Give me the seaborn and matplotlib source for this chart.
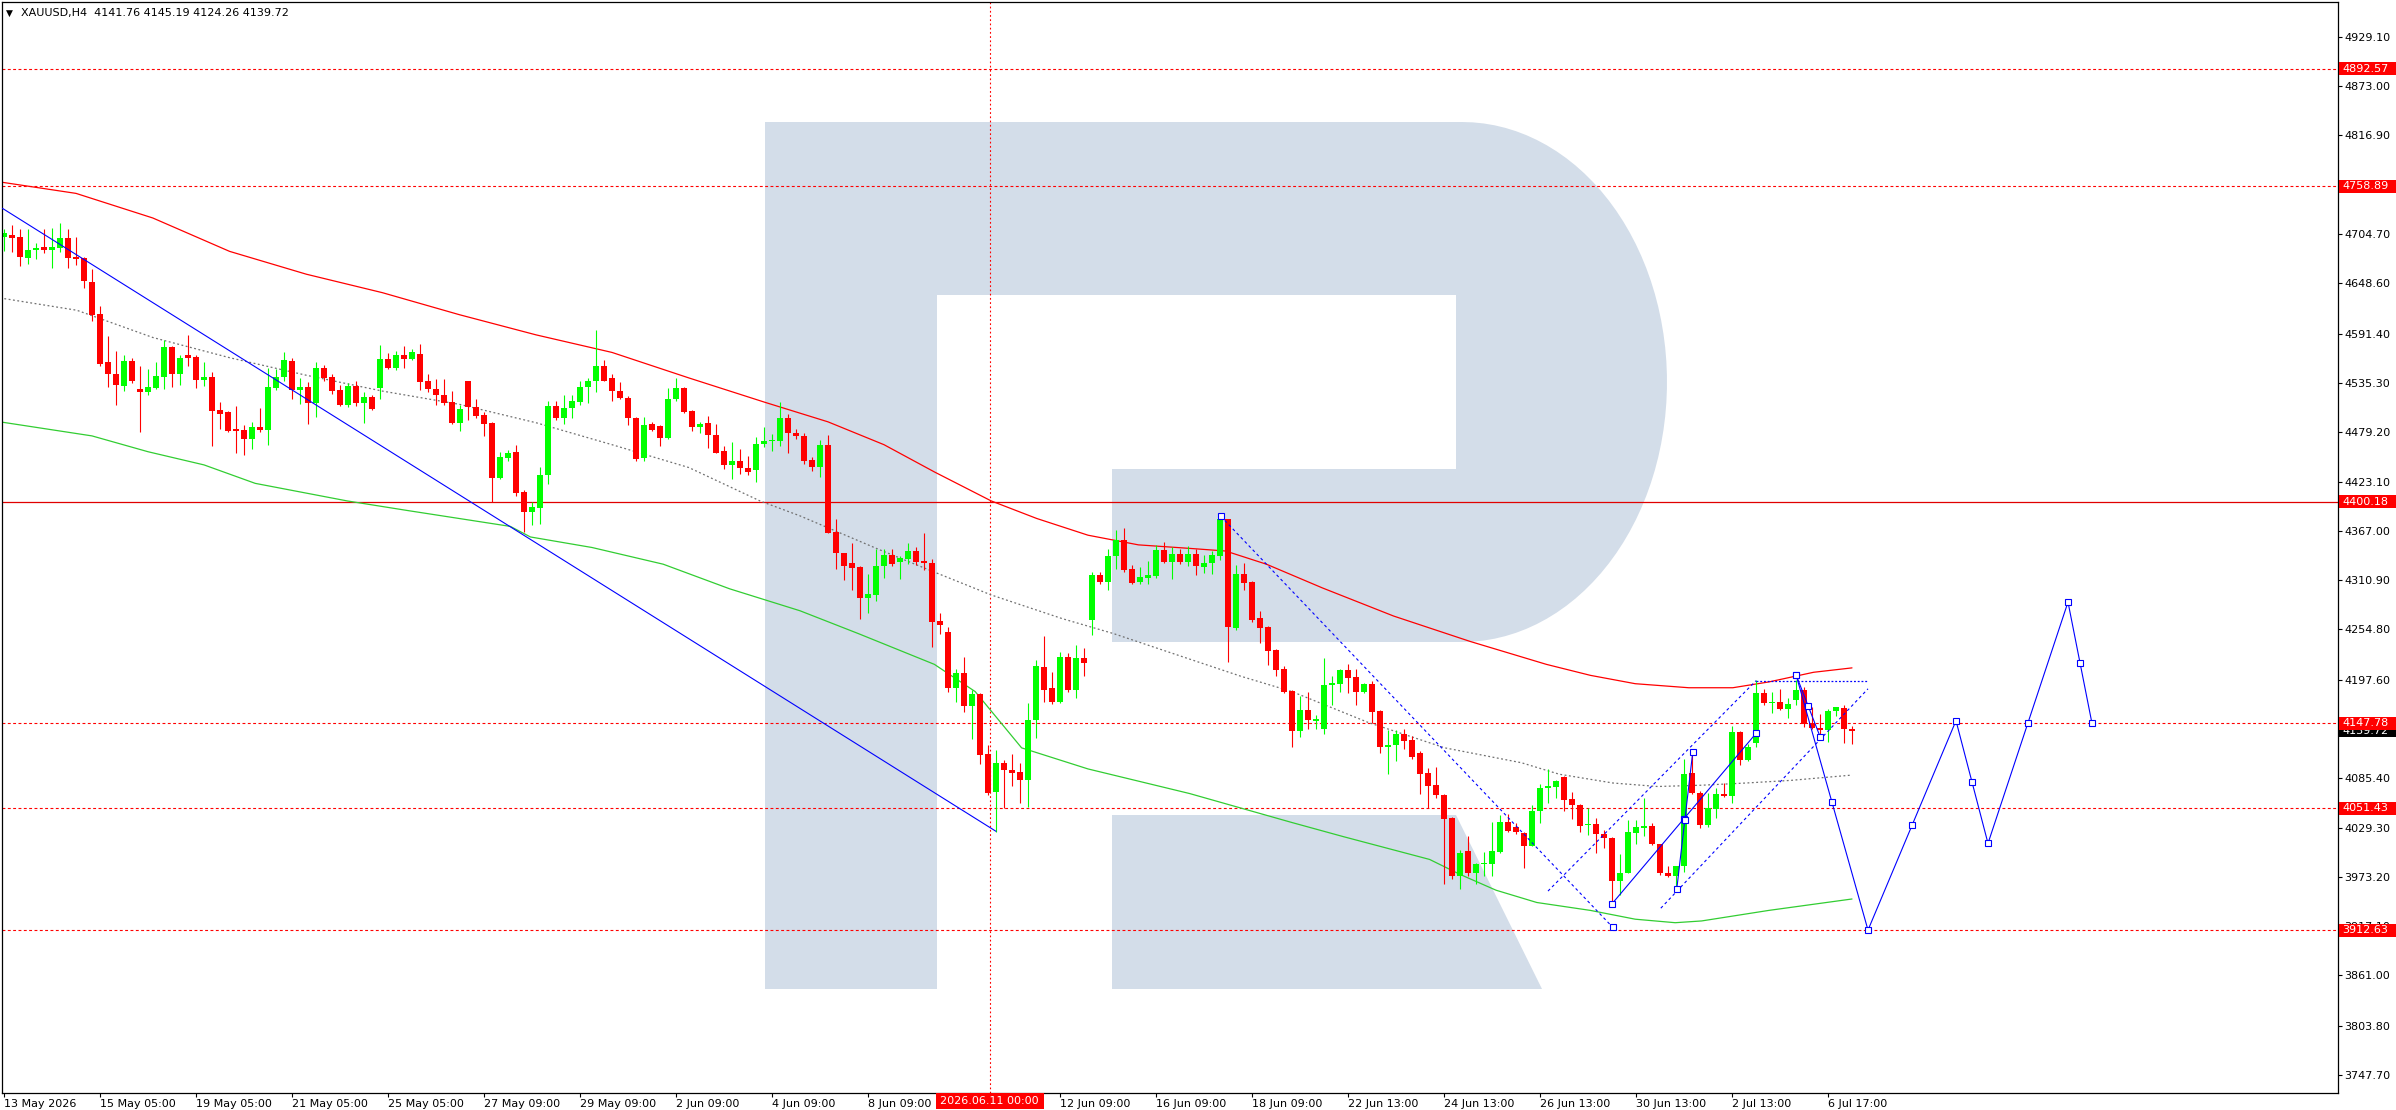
import numpy as np
import pandas as pd
import matplotlib
matplotlib.use("Agg")
import matplotlib.pyplot as plt
import matplotlib.transforms as mtransforms
from matplotlib.patches import Rectangle, Polygon
import seaborn as sns

W, H, DPI = 2396, 1110, 100

# ---------------- data: XAUUSD H4 candles (bar 0 = 13 May 2026) ----------------
opens = [4701, 4704, 4701, 4678, 4686, 4690, 4687, 4689, 4700, 4679,
         4678, 4650, 4614, 4559, 4546, 4532, 4560, 4528, 4525, 4530,
         4542, 4576, 4546, 4567, 4565, 4539, 4542, 4504, 4502, 4482,
         4482, 4471, 4485, 4482, 4530, 4542, 4560, 4527, 4531, 4512,
         4552, 4542, 4527, 4510, 4532, 4513, 4519, 4529, 4563, 4552,
         4567, 4562, 4568, 4537, 4528, 4522, 4514, 4490, 4537, 4508,
         4499, 4490, 4427, 4450, 4457, 4411, 4388, 4393, 4430, 4509,
         4495, 4507, 4514, 4531, 4537, 4555, 4541, 4526, 4518, 4495,
         4450, 4488, 4486, 4473, 4517, 4530, 4503, 4485, 4490, 4476,
         4458, 4442, 4446, 4439, 4436, 4466, 4469, 4469, 4495, 4478,
         4475, 4448, 4440, 4465, 4366, 4342, 4330, 4326, 4291, 4294,
         4327, 4340, 4332, 4335, 4344, 4333, 4330, 4264, 4252, 4188,
         4205, 4168, 4181, 4113, 4070, 4103, 4095, 4092, 4083, 4152,
         4212, 4188, 4172, 4223, 4186, 4222, 4266, 4317, 4309, 4338,
         4356, 4324, 4309, 4313, 4315, 4345, 4331, 4341, 4331, 4341,
         4326, 4330, 4338, 4380, 4256, 4318, 4309, 4268, 4257, 4231,
         4210, 4185, 4139, 4163, 4151, 4142, 4191, 4193, 4209, 4201,
         4183, 4193, 4162, 4121, 4123, 4136, 4129, 4114, 4091, 4078,
         4066, 4040, 3974, 4003, 3977, 3988, 3988, 4002, 4036, 4030,
         4023, 4008, 4048, 4074, 4075, 4087, 4062, 4055, 4032, 4033,
         4022, 4017, 3969, 3978, 4023, 4029, 4031, 4011, 3978, 3974,
         3985, 4091, 4069, 4032, 4050, 4067, 4065, 4138, 4106, 4126,
         4182, 4171, 4172, 4164, 4175, 4186, 4148, 4143, 4140, 4162,
         4165, 4141.76]
highs = [4710, 4715, 4710, 4710, 4694, 4711, 4712, 4717, 4710, 4701,
         4679, 4665, 4623, 4589, 4572, 4567, 4564, 4555, 4551, 4559,
         4584, 4577, 4567, 4590, 4567, 4559, 4548, 4514, 4503, 4509,
         4487, 4491, 4507, 4552, 4551, 4570, 4564, 4541, 4536, 4559,
         4556, 4546, 4533, 4535, 4537, 4525, 4521, 4579, 4569, 4572,
         4577, 4574, 4580, 4545, 4540, 4540, 4526, 4510, 4538, 4517,
         4502, 4491, 4457, 4459, 4465, 4413, 4400, 4440, 4515, 4515,
         4522, 4521, 4538, 4541, 4596, 4561, 4545, 4536, 4520, 4496,
         4496, 4491, 4487, 4529, 4541, 4531, 4504, 4491, 4498, 4489,
         4464, 4468, 4460, 4452, 4474, 4485, 4477, 4514, 4500, 4483,
         4478, 4451, 4470, 4476, 4380, 4342, 4353, 4327, 4318, 4346,
         4346, 4346, 4338, 4353, 4349, 4364, 4335, 4274, 4257, 4210,
         4223, 4186, 4182, 4123, 4118, 4106, 4113, 4103, 4171, 4220,
         4247, 4206, 4229, 4228, 4237, 4234, 4320, 4320, 4346, 4368,
         4370, 4328, 4326, 4333, 4351, 4354, 4349, 4346, 4350, 4346,
         4340, 4344, 4384, 4381, 4328, 4330, 4310, 4276, 4259, 4232,
         4213, 4186, 4179, 4184, 4157, 4222, 4202, 4210, 4215, 4210,
         4194, 4196, 4163, 4140, 4140, 4142, 4134, 4116, 4097, 4098,
         4068, 4041, 4004, 4020, 3989, 4002, 4036, 4044, 4045, 4035,
         4024, 4055, 4079, 4096, 4083, 4088, 4070, 4056, 4052, 4040,
         4026, 4018, 3999, 4038, 4038, 4063, 4034, 4011, 3986, 3986,
         4107, 4113, 4071, 4069, 4074, 4080, 4145, 4139, 4124, 4197,
         4187, 4183, 4187, 4177, 4197, 4189, 4166, 4159, 4164, 4167,
         4169, 4145.19]
lows = [4685, 4684, 4668, 4671, 4676, 4683, 4666, 4684, 4666, 4669,
        4643, 4606, 4555, 4531, 4510, 4526, 4535, 4480, 4521, 4528,
        4528, 4531, 4533, 4554, 4530, 4532, 4464, 4483, 4480, 4455,
        4453, 4460, 4480, 4465, 4527, 4538, 4517, 4511, 4488, 4496,
        4538, 4523, 4509, 4508, 4509, 4490, 4504, 4517, 4551, 4550,
        4552, 4561, 4527, 4525, 4510, 4510, 4489, 4481, 4493, 4495,
        4475, 4400, 4426, 4446, 4407, 4366, 4374, 4375, 4420, 4493,
        4488, 4495, 4510, 4512, 4525, 4537, 4515, 4517, 4487, 4447,
        4446, 4481, 4463, 4471, 4515, 4501, 4481, 4478, 4461, 4455,
        4437, 4426, 4432, 4430, 4423, 4462, 4458, 4464, 4456, 4472,
        4443, 4435, 4428, 4364, 4323, 4311, 4300, 4267, 4273, 4287,
        4313, 4327, 4312, 4329, 4328, 4322, 4235, 4250, 4183, 4172,
        4161, 4130, 4102, 4066, 4024, 4052, 4077, 4057, 4053, 4131,
        4172, 4170, 4171, 4183, 4177, 4202, 4248, 4307, 4300, 4324,
        4320, 4306, 4306, 4307, 4313, 4330, 4312, 4329, 4327, 4317,
        4319, 4318, 4334, 4218, 4254, 4300, 4263, 4239, 4214, 4202,
        4182, 4121, 4132, 4141, 4142, 4136, 4169, 4184, 4182, 4169,
        4182, 4148, 4114, 4090, 4105, 4119, 4107, 4068, 4052, 4063,
        3965, 3971, 3959, 3974, 3965, 3974, 3974, 4000, 4024, 4022,
        3983, 4008, 4035, 4057, 4063, 4048, 4039, 4024, 4021, 4000,
        4006, 3944, 3952, 3977, 4011, 4020, 4009, 3975, 3973, 3962,
        3979, 4068, 4029, 4030, 4040, 4064, 4057, 4100, 4105, 4121,
        4169, 4160, 4163, 4154, 4169, 4144, 4141, 4130, 4127, 4156,
        4125, 4124.26]
closes = [4706, 4700, 4679, 4686, 4689, 4687, 4690, 4700, 4678, 4676,
          4651, 4613, 4557, 4545, 4533, 4560, 4537, 4525, 4531, 4543,
          4576, 4546, 4564, 4564, 4539, 4542, 4503, 4500, 4481, 4481,
          4471, 4485, 4482, 4531, 4542, 4561, 4527, 4531, 4512, 4552,
          4541, 4526, 4510, 4532, 4512, 4519, 4506, 4563, 4552, 4567,
          4562, 4571, 4536, 4528, 4521, 4513, 4490, 4506, 4508, 4498,
          4489, 4427, 4451, 4456, 4410, 4388, 4394, 4430, 4509, 4495,
          4507, 4515, 4531, 4537, 4555, 4538, 4526, 4518, 4495, 4449,
          4487, 4482, 4473, 4517, 4530, 4502, 4485, 4489, 4476, 4456,
          4442, 4446, 4438, 4434, 4466, 4469, 4470, 4495, 4478, 4475,
          4446, 4440, 4465, 4365, 4342, 4327, 4325, 4291, 4295, 4327,
          4340, 4329, 4336, 4344, 4332, 4330, 4263, 4260, 4188, 4205,
          4168, 4181, 4112, 4069, 4103, 4095, 4091, 4083, 4152, 4213,
          4186, 4172, 4223, 4186, 4222, 4216, 4317, 4309, 4338, 4356,
          4322, 4308, 4314, 4317, 4345, 4331, 4341, 4331, 4341, 4327,
          4330, 4340, 4380, 4258, 4318, 4308, 4266, 4256, 4230, 4209,
          4184, 4139, 4163, 4152, 4153, 4192, 4194, 4209, 4199, 4183,
          4193, 4161, 4121, 4123, 4136, 4128, 4110, 4090, 4077, 4066,
          4039, 3974, 4000, 3978, 3988, 3989, 4003, 4036, 4025, 4024,
          4008, 4048, 4074, 4077, 4082, 4061, 4055, 4031, 4033, 4022,
          4017, 3969, 3978, 4024, 4030, 4031, 4011, 3978, 3974, 3985,
          4090, 4069, 4032, 4051, 4067, 4065, 4138, 4106, 4121, 4182,
          4171, 4172, 4164, 4170, 4186, 4147, 4143, 4140, 4162, 4166,
          4141, 4139.72]

# moving averages, sampled along the curves (bar index, price)
ma_red_bar = [-0.5, 9, 18.6, 28.2, 37.8, 47.3, 56.9, 66.5, 76, 85.6, 95.2, 103,
              110, 116.3, 123.4, 129.1, 135.5, 141.8, 148.2, 152.7, 157.8, 164.8,
              173.7, 183.3, 192.8, 198.3, 203.9, 210.6, 216.1, 220.6, 226.2, 231]
ma_red_val = [4764, 4751, 4723, 4685, 4659, 4638, 4613, 4590, 4570, 4541, 4513, 4491,
              4465, 4434, 4401, 4381, 4362, 4351, 4347, 4344, 4329, 4302,
              4270, 4241, 4215, 4202.5, 4193, 4188.4, 4188.4, 4195, 4206, 4211]
ma_gray_bar = [-0.5, 9.1, 18.6, 28.2, 37.8, 47.3, 56.9, 66.5, 76, 85.6, 94.5, 99.5,
               109.3, 116.3, 123.4, 132.3, 138.7, 148.2, 154.6, 161, 170.5, 180.1,
               189.7, 194.4, 201.1, 206.7, 212.3, 217.8, 223.4, 231]
ma_gray_val = [4632, 4618, 4587, 4564, 4544, 4526, 4511, 4490, 4465, 4439, 4401, 4384,
               4346, 4320, 4294, 4267, 4250, 4221, 4201.5, 4184, 4149, 4120,
               4103, 4090, 4080, 4076, 4077.5, 4080, 4083, 4089]
ma_green_bar = [-0.5, 11, 18, 25, 31.4, 42.9, 50.5, 63.3, 65.8, 73.5, 82.4, 90.7,
                99.5, 106.8, 116.3, 121.4, 127.2, 135.5, 148.2, 161, 167.4, 178.2,
                182, 186.5, 191.6, 198.3, 203.9, 208.9, 212.2, 220.6, 231]
ma_green_val = [4491, 4475, 4457, 4442, 4421, 4401, 4390, 4372, 4360, 4348, 4329, 4301,
                4276, 4250, 4215, 4184, 4120, 4096, 4068, 4035, 4019, 3993,
                3976, 3958, 3944, 3935, 3925, 3921, 3923, 3935, 3948]

# horizontal levels
dashed_levels = [4892.57, 4758.89, 4147.78, 4051.43, 3912.63]
solid_level = 4400.18
last_price = 4139.72

# analysis objects (bar index, price)
trend_down = ([-0.2, 124.0], [4734, 4025])
dash_down = ([152.1, 201.1], [4383.5, 3915.7])
dash_up_top = ([193.0, 219.0], [3957, 4196.4])
dash_up_low = ([207.1, 233.0], [3937.5, 4187.2])
dot_flat = ([219.0, 233.0], [4196.4, 4196.4])
solid_a = ([201.0, 219.0], [3942.5, 4136.4])
solid_b = ([209.1, 211.1], [3959.7, 4115.7])
solid_c = ([224.0, 227.05], [4203.3, 4131.8])
forecast_bar = [224.0, 233.0, 244.0, 248.0, 258.0, 261.0]
forecast_val = [4203.3, 3912.6, 4150.9, 4011.3, 4285.9, 4147.8]
cursor_bar = 123.2
cursor_label = "2026.06.11 00:00"

price_ticks = [3747.70, 3803.80, 3861.00, 3917.10, 3973.20, 4029.30, 4085.40,
               4141.50, 4197.60, 4254.80, 4310.90, 4367.00, 4423.10, 4479.20,
               4535.30, 4591.40, 4648.60, 4704.70, 4760.80, 4816.90, 4873.00, 4929.10]
time_tick_bars = list(range(0, 229, 12))
time_tick_labels = ["13 May 2026", "15 May 05:00", "19 May 05:00", "21 May 05:00",
                    "25 May 05:00", "27 May 09:00", "29 May 09:00", "2 Jun 09:00",
                    "4 Jun 09:00", "8 Jun 09:00", "", "12 Jun 09:00", "16 Jun 09:00",
                    "18 Jun 09:00", "22 Jun 13:00", "24 Jun 13:00", "26 Jun 13:00",
                    "30 Jun 13:00", "2 Jul 13:00", "6 Jul 17:00"]
header = "XAUUSD,H4  4141.76 4145.19 4124.26 4139.72"

BULL = "#00ff00"
BEAR = "#ff0000"
BLUE = "#0000ff"
WM = "#d3dde9"

# ---------------- figure ----------------
sns.set_theme(style="white")
plt.rcParams["font.family"] = ["DejaVu Sans"]
plt.rcParams["font.size"] = 8

L, T, R, B = 2, 2, 2338, 1093  # plot area in pixels
fig = plt.figure(figsize=(W / DPI, H / DPI), dpi=DPI)
fig.patch.set_facecolor("white")
ax = fig.add_axes([L / W, 1 - B / H, (R - L) / W, (B - T) / H])
ax.set_facecolor("white")
ax.set_xlim(-0.25, 291.75)
ax.set_ylim(3727.2, 4968.8)


def px(x, y):
    return (x / W, 1 - y / H)


# watermark logo (pixel geometry)
t = np.linspace(np.pi / 2, -np.pi / 2, 60)
bowl = [px(765, 122)] + [px(1462 + 205 * np.cos(a), 382 - 260 * np.sin(a)) for a in t] + [px(765, 642)]
ax.add_patch(Polygon(bowl, closed=True, transform=fig.transFigure, fc=WM, ec="none", zorder=0.5))
ax.add_patch(Polygon([px(765, 122), px(937, 122), px(937, 989), px(765, 989)],
                     transform=fig.transFigure, fc=WM, ec="none", zorder=0.5))
ax.add_patch(Polygon([px(1112, 815), px(1456, 815), px(1542, 989), px(1112, 989)],
                     transform=fig.transFigure, fc=WM, ec="none", zorder=0.5))
for poly in ([px(937, 295), px(1456, 295), px(1456, 469), px(937, 469)],
             [px(937, 469), px(1112, 469), px(1112, 642), px(937, 642)]):
    ax.add_patch(Polygon(poly, transform=fig.transFigure, fc="white", ec="none", zorder=0.6))

# horizontal levels and cursor
for lv in dashed_levels:
    ax.axhline(lv, color="#ff0000", lw=0.8, ls=(0, (2.6, 2.2)), zorder=1)
ax.axhline(solid_level, color="#e00000", lw=0.9, zorder=1)
ax.axvline(cursor_bar, color="#ff0000", lw=0.8, ls=(0, (1.6, 2.2)), zorder=1)

# moving averages
sns.lineplot(x=ma_red_bar, y=ma_red_val, ax=ax, color="#ff0000", lw=0.9, sort=False, zorder=1.5)
sns.lineplot(x=ma_gray_bar, y=ma_gray_val, ax=ax, color="#707070", lw=0.9,
             linestyle=(0, (1.5, 2.0)), sort=False, zorder=1.5)
sns.lineplot(x=ma_green_bar, y=ma_green_val, ax=ax, color="#32cd32", lw=0.9, sort=False, zorder=1.5)

# candles
df = pd.DataFrame({"open": opens, "high": highs, "low": lows, "close": closes})
df["bar"] = np.arange(len(df))
colors = np.where(df["close"] >= df["open"], BULL, BEAR)
ax.vlines(df["bar"], df["low"], df["high"], colors=colors, lw=0.8, zorder=2)
body_lo = df[["open", "close"]].min(axis=1)
body_h = (df["close"] - df["open"]).abs().clip(lower=1.3)
ax.bar(df["bar"], body_h, bottom=body_lo, width=0.68, color=colors, linewidth=0, zorder=2.1)

# analysis lines
ax.plot(*trend_down, color=BLUE, lw=0.8, zorder=3)
for seg in (dash_down, dash_up_top, dash_up_low):
    ax.plot(*seg, color=BLUE, lw=0.8, ls=(0, (2.6, 2.6)), zorder=3)
ax.plot(*dot_flat, color=BLUE, lw=0.9, ls=(0, (1.5, 1.5)), zorder=3)
mk = dict(marker="s", ms=4.2, mfc="white", mec=BLUE, mew=0.8, ls="none", zorder=3.5)
ax.plot(*dash_down, **mk)
for xs, ys in (solid_a, solid_b, solid_c):
    ax.plot(xs, ys, color=BLUE, lw=0.8, zorder=3)
    ax.plot(xs + [np.mean(xs)], ys + [np.mean(ys)], **mk)
ax.plot(forecast_bar, forecast_val, color=BLUE, lw=0.8, zorder=3)
mid_x = [(a + b) / 2 for a, b in zip(forecast_bar[:-1], forecast_bar[1:])]
mid_y = [(a + b) / 2 for a, b in zip(forecast_val[:-1], forecast_val[1:])]
ax.plot(forecast_bar + mid_x, forecast_val + mid_y, **mk)

# axes styling
for s in ax.spines.values():
    s.set_visible(True)
    s.set_color("black")
    s.set_linewidth(0.9)
ax.yaxis.tick_right()
ax.set_yticks(price_ticks)
ax.set_yticklabels([f"{v:.2f}" for v in price_ticks])
ax.set_xticks(time_tick_bars)
ax.set_xticklabels(time_tick_labels)
for lbl in ax.get_xticklabels():
    lbl.set_ha("left")
ax.tick_params(axis="y", which="both", right=True, left=False, labelright=True, labelleft=False,
               direction="out", length=3, width=0.8, pad=1.5, labelsize=8, colors="black")
ax.tick_params(axis="x", which="both", bottom=True, top=False, direction="out",
               length=3, width=0.8, pad=1.5, labelsize=8, colors="black")
ax.set_xlabel("")
ax.set_ylabel("")
ax.grid(False)

# price tags on the right axis (later tags drawn on top of earlier ones)
tag_tf = mtransforms.blended_transform_factory(fig.transFigure, ax.transData)
tag_h = 14.8
tags = [(last_price, "black")] + [(lv, "#ff0000") for lv in dashed_levels + [solid_level]]
for k, (lv, col) in enumerate(tags):
    ax.add_patch(Rectangle((2339 / W, lv - tag_h / 2), (W - 2339) / W, tag_h, transform=tag_tf,
                           fc=col, ec="none", clip_on=False, zorder=10 + 2 * k))
    ax.text(2342 / W, lv, f"{lv:.2f}", transform=tag_tf, color="white", fontsize=8,
            ha="left", va="center", clip_on=False, zorder=11 + 2 * k)

# cursor time tag
cx = (L + (cursor_bar + 0.25) / 292.0 * (R - L))
fig.patches.append(Rectangle(((cx - 54) / W, 1 - 1109 / H), 108 / W, 16 / H,
                             transform=fig.transFigure, fc="#ff0000", ec="none", zorder=10))
fig.text(cx / W, 1 - 1101 / H, cursor_label, color="white", fontsize=8, ha="center", va="center", zorder=11)

# header
fig.text(6 / W, 1 - 13 / H, "\u25bc", fontsize=6.5, color="black", ha="left", va="center")
fig.text(21 / W, 1 - 13 / H, header, fontsize=8, color="black", ha="left", va="center")

fig.savefig("out.png", dpi=DPI, facecolor="white")
